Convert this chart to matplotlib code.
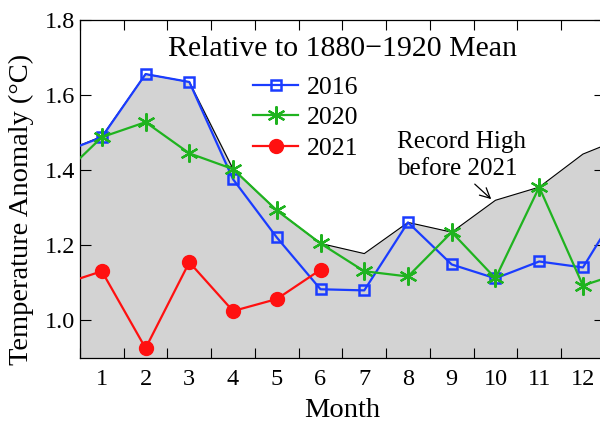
import numpy as np
import matplotlib
matplotlib.use("Agg")
import matplotlib.pyplot as plt

plt.rcParams['font.family'] = ['Liberation Serif', 'DejaVu Serif']

# month 0 = previous December, month 13 = following January
months = np.arange(0, 14)
record = [1.443, 1.49, 1.656, 1.635, 1.403, 1.293, 1.205, 1.178, 1.261, 1.235, 1.32, 1.355, 1.443, 1.49]
y2016 = [1.443, 1.488, 1.656, 1.635, 1.376, 1.221, 1.083, 1.08, 1.261, 1.149, 1.112, 1.157, 1.141, 1.33]
y2020 = [1.376, 1.488, 1.528, 1.445, 1.403, 1.293, 1.205, 1.131, 1.117, 1.235, 1.112, 1.355, 1.093, 1.131]
months21 = np.arange(0, 7)
y2021 = [1.093, 1.131, 0.926, 1.155, 1.025, 1.057, 1.135]

fig = plt.figure(figsize=(6, 4.23), dpi=100)
ax = fig.add_axes([0.1333, 0.1537, 0.8747, 0.799])

ax.fill_between(months, record, 0.9, color='#d3d3d3', zorder=1)
ax.plot(months, record, color='black', lw=0.8, zorder=2)

ax.plot(months, y2016, color='#1a3cff', lw=1.6, marker='s', ms=7.5,
        mfc='none', mec='#1a3cff', mew=1.8, label='2016', zorder=3)
ax.plot(months, y2020, color='#1fb31f', lw=1.6, marker=(6, 2, 0), ms=13,
        mew=1.6, label='2020', zorder=4)
ax.plot(months21, y2021, color='#ff1010', lw=1.6, marker='o', ms=10,
        label='2021', zorder=5)

ax.set_xlim(0.5, 12.5)
ax.set_ylim(0.9, 1.8)
ax.set_xticks(np.arange(1, 13))
ax.set_xticks(np.arange(0.5, 13, 1), minor=True)
ax.set_yticks([1.0, 1.2, 1.4, 1.6, 1.8])
ax.set_yticklabels(['1.0', '1.2', '1.4', '1.6', '1.8'])
ax.tick_params(axis='x', which='major', length=0, labelsize=17.5, pad=8)
ax.tick_params(axis='x', which='minor', direction='in', length=7, top=True, width=0.8)
ax.tick_params(axis='y', direction='in', length=8, right=True, labelsize=17.5, width=0.8)

ax.set_xlabel('Month', fontsize=20.5, labelpad=6)
ax.set_ylabel('Temperature Anomaly (°C)', fontsize=20.5)
ax.yaxis.set_label_coords(-0.088, 0.44)

ax.text(0.168, 0.915, 'Relative to 1880\u22121920 Mean', transform=ax.transAxes,
        fontsize=21.5, ha='left', va='center')

ax.legend(loc='upper left', bbox_to_anchor=(0.33, 0.835), frameon=False,
          fontsize=18.5, handlelength=1.75, handletextpad=0.35,
          labelspacing=0.3, borderpad=0, borderaxespad=0)

ax.annotate('', xy=(9.95, 1.318), xytext=(9.48, 1.368),
            arrowprops=dict(arrowstyle='->', color='black', lw=0.9,
                            mutation_scale=18))
ax.text(7.75, 1.505, 'Record High\nbefore 2021', fontsize=18, ha='left', va='top',
        linespacing=1.3)

for s in ax.spines.values():
    s.set_linewidth(0.9)

fig.savefig('out.png', dpi=100)
